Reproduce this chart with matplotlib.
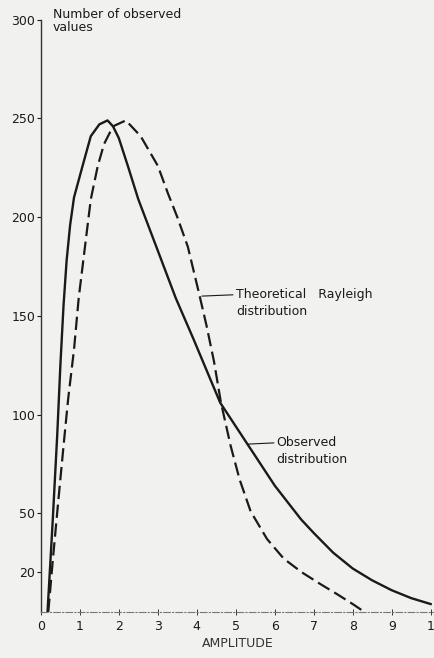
import matplotlib.pyplot as plt

# observed distribution (solid line)
obs_x = [0.17, 0.30, 0.42, 0.50, 0.58, 0.66, 0.75, 0.85, 1.07, 1.28, 1.50, 1.71,
         1.85, 2.00, 2.23, 2.50, 3.00, 3.46, 3.92, 4.60, 5.30, 6.00, 6.67, 7.00,
         7.50, 8.00, 8.50, 9.00, 9.50, 10.0]
obs_y = [0, 45, 90, 125, 155, 178, 196, 210, 226, 241, 247, 249,
         246, 240, 226, 209, 183, 159, 138, 106, 85, 64, 47, 40,
         30, 22, 16, 11, 7, 4]

# theoretical Rayleigh distribution (dashed line)
ray_x = [0.19, 0.30, 0.45, 0.60, 0.70, 0.85, 0.97, 1.10, 1.28, 1.46, 1.62, 1.85,
         2.18, 2.56, 3.00, 3.26, 3.50, 3.77, 4.05, 4.25, 4.44, 4.62, 4.87, 5.10,
         5.38, 5.80, 6.23, 6.70, 7.18, 7.60, 8.00, 8.30]
ray_y = [0, 25, 57, 88, 108, 133, 159, 180, 209, 226, 237, 246,
         249, 241, 226, 212, 200, 185, 162, 145, 127, 106, 84, 67,
         51, 37, 27, 20, 14, 9, 4, 0]

yticks = [20, 50, 100, 150, 200, 250, 300]
xticks = list(range(0, 11))
xtick_labels = ['0', '1', '2', '3', '4', '5', '6', '7', '8', '9', '1']

bg = '#f1f1ef'
ink = '#1a1a1a'

fig = plt.figure(figsize=(4.35, 6.58), dpi=100, facecolor=bg)
ax = fig.add_axes([0.094, 0.070, 0.905, 0.900], facecolor=bg)

ax.plot(obs_x, obs_y, color=ink, lw=1.7, solid_joinstyle='round')
ax.plot(ray_x, ray_y, color=ink, lw=1.6, dashes=(6, 2.5))

ax.set_xlim(0, 10.1)
ax.set_ylim(0, 300)
ax.set_yticks(yticks)
ax.set_xticks(xticks)
ax.set_xticklabels(xtick_labels)
ax.tick_params(axis='y', direction='out', length=3, width=0.8, labelsize=9,
               colors=ink, pad=1)
ax.tick_params(axis='x', direction='inout', length=4, width=0.6, labelsize=9,
               colors=ink, pad=4)

for s in ['top', 'right']:
    ax.spines[s].set_visible(False)
ax.spines['left'].set_linewidth(1.0)
ax.spines['left'].set_color('#333333')
ax.spines['bottom'].set_linewidth(0.8)
ax.spines['bottom'].set_color('#777777')
ax.spines['bottom'].set_linestyle((0, (6, 2, 1, 2)))

ax.set_xlabel('AMPLITUDE', fontsize=9, color='#333333', labelpad=3)

ax.text(0.3, 306, 'Number of observed\nvalues', fontsize=9, color=ink,
        va='top', ha='left', linespacing=1.0, clip_on=False)

ax.annotate('Theoretical   Rayleigh\ndistribution', xy=(4.13, 160), xytext=(5.0, 164),
            fontsize=9, color=ink, va='top', ha='left', linespacing=1.35,
            arrowprops=dict(arrowstyle='-', color=ink, lw=0.8, shrinkA=0, shrinkB=0,
                            relpos=(0, 0.78)))
ax.annotate('Observed\ndistribution', xy=(5.3, 85), xytext=(6.05, 89),
            fontsize=9, color=ink, va='top', ha='left', linespacing=1.35,
            arrowprops=dict(arrowstyle='-', color=ink, lw=0.8, shrinkA=0, shrinkB=0,
                            relpos=(0, 0.78)))

plt.savefig('out.png', dpi=100, facecolor=bg)
